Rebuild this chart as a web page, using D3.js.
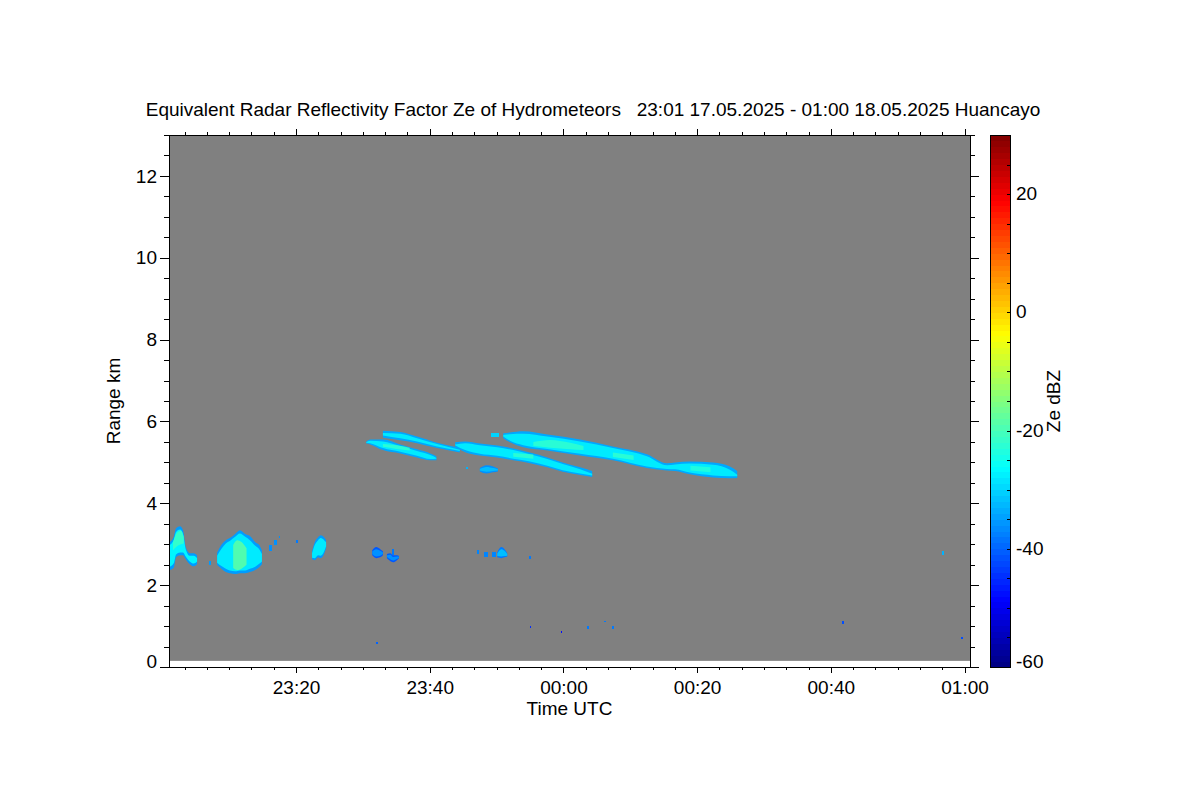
<!DOCTYPE html>
<html>
<head>
<meta charset="utf-8">
<script src="https://cdn.jsdelivr.net/npm/d3@7"></script>
<style>
  html, body { margin: 0; padding: 0; background: #fff; }
  svg text { font-family: "Liberation Sans", Arial, Helvetica, sans-serif; fill: #000; }
</style>
</head>
<body>
<svg id="chart" width="1200" height="800"></svg>
<script>
// ---------------- DATA (time = minutes after 23:00 UTC 17.05.2025, height in km, Ze in dBZ) ----------------
const titleText = "Equivalent Radar Reflectivity Factor Ze of Hydrometeors   23:01 17.05.2025 - 01:00 18.05.2025 Huancayo";
const xTickLabels = ["23:20", "23:40", "00:00", "00:20", "00:40", "01:00"];
const xTickMinutes = [20, 40, 60, 80, 100, 120];
const yTickValues = [0, 2, 4, 6, 8, 10, 12];
const cbarTickValues = [20, 0, -20, -40, -60];
const cbarTickLabels = ["20", "0", "-20", "-40", "-60"];
const zeRange = [-60, 30];
const timeRangeMinutes = [1, 120.82];
const heightRange = [0, 13];
const dataBottomKm = 0.15;

// echo layers: [time, outerLow, outerHigh, innerLow, innerHigh]
const layerUpperLeft = [
  [33.0, 5.60, 5.77, 5.66, 5.72], [35.6, 5.54, 5.74, 5.59, 5.70], [38.1, 5.47, 5.63, 5.51, 5.59],
  [41.1, 5.35, 5.48, 5.39, 5.45], [44.5, 5.24, 5.36, 5.28, 5.31]
];
const layerLowerLeft = [
  [30.5, 5.46, 5.51, 5.48, 5.49], [31.1, 5.44, 5.56, 5.47, 5.53], [33.0, 5.30, 5.56, 5.35, 5.51],
  [35.6, 5.22, 5.44, 5.26, 5.40], [38.1, 5.12, 5.32, 5.16, 5.28], [40.1, 5.05, 5.22, 5.08, 5.18],
  [41.0, 5.05, 5.15, 5.09, 5.11]
];
const layerMiddle = [
  [43.8, 5.38, 5.49, 5.42, 5.44], [45.3, 5.25, 5.51, 5.30, 5.47], [47.5, 5.17, 5.46, 5.21, 5.42],
  [50.1, 5.12, 5.41, 5.16, 5.37], [52.5, 5.05, 5.34, 5.09, 5.30], [55.0, 4.98, 5.24, 5.02, 5.20],
  [57.6, 4.88, 5.12, 4.92, 5.08], [59.9, 4.77, 5.00, 4.81, 4.96], [62.5, 4.69, 4.88, 4.73, 4.83],
  [64.3, 4.64, 4.79, 4.68, 4.72]
];
const layerUpperMain = [
  [51.0, 5.59, 5.71, 5.63, 5.67], [52.0, 5.49, 5.73, 5.53, 5.69], [54.0, 5.37, 5.76, 5.42, 5.70],
  [57.6, 5.29, 5.68, 5.33, 5.63], [62.5, 5.17, 5.56, 5.21, 5.51], [67.4, 5.05, 5.39, 5.09, 5.35],
  [72.5, 4.86, 5.20, 4.90, 5.15], [75.5, 4.80, 4.98, 4.84, 4.93], [76.7, 4.79, 5.00, 4.83, 4.95],
  [78.9, 4.71, 5.02, 4.75, 4.97], [82.4, 4.63, 5.00, 4.68, 4.94], [84.9, 4.61, 4.90, 4.66, 4.82],
  [86.0, 4.62, 4.79, 4.66, 4.70]
];
const layerSmallLower = [
  [47.5, 4.78, 4.86, 4.80, 4.84], [48.5, 4.73, 4.93, 4.77, 4.89], [49.5, 4.76, 4.90, 4.79, 4.86],
  [50.2, 4.78, 4.85, 4.80, 4.83]
];
const blobA = [
  [1.1, 2.37, 3.05, 2.45, 2.98], [1.75, 2.44, 3.20, 2.55, 3.12], [2.05, 2.68, 3.39, 2.75, 3.30],
  [2.65, 2.73, 3.44, 2.80, 3.36], [3.1, 2.73, 3.34, 2.80, 3.25], [3.5, 2.63, 2.93, 2.70, 2.88],
  [4.1, 2.51, 2.78, 2.58, 2.72], [4.7, 2.46, 2.78, 2.53, 2.72], [5.2, 2.51, 2.73, 2.58, 2.66]
];
const blobB = [
  [8.2, 2.49, 2.80, 2.55, 2.72], [8.9, 2.39, 3.00, 2.46, 2.90], [9.5, 2.32, 3.10, 2.40, 3.02],
  [10.1, 2.29, 3.15, 2.36, 3.08], [10.9, 2.27, 3.25, 2.34, 3.18], [11.6, 2.29, 3.34, 2.36, 3.26],
  [12.4, 2.29, 3.25, 2.36, 3.18], [13.1, 2.32, 3.20, 2.40, 3.10], [13.9, 2.37, 3.05, 2.45, 2.96],
  [14.5, 2.44, 2.98, 2.52, 2.88], [14.9, 2.51, 2.85, 2.58, 2.76]
];
const blobC = [
  [22.4, 2.63, 2.83, 2.67, 2.78], [22.8, 2.61, 3.05, 2.66, 2.98], [23.3, 2.68, 3.17, 2.73, 3.10],
  [23.7, 2.66, 3.22, 2.72, 3.15], [24.2, 2.76, 3.17, 2.82, 3.10], [24.5, 2.90, 3.10, 2.95, 3.05]
];
const blobD = [
  [31.4, 2.73, 2.85, 2.76, 2.82], [32.0, 2.66, 2.93, 2.70, 2.88], [32.6, 2.68, 2.88, 2.72, 2.84],
  [33.0, 2.73, 2.83, 2.76, 2.80]
];
const blobE = [
  [33.6, 2.66, 2.76, 2.69, 2.73], [34.1, 2.59, 2.78, 2.63, 2.74], [34.5, 2.56, 2.73, 2.60, 2.69],
  [35.1, 2.61, 2.73, 2.64, 2.70], [35.4, 2.66, 2.71, 2.67, 2.70]
];
const blobI = [
  [50.1, 2.68, 2.80, 2.71, 2.77], [50.7, 2.66, 2.93, 2.70, 2.88], [51.2, 2.68, 2.88, 2.71, 2.84],
  [51.6, 2.70, 2.78, 2.72, 2.76]
];
// outer / inner reflectivity of each echo above (same order)
const echoOuterZe = [-34, -34, -34, -34, -36, -35, -35, -35, -41, -41, -38];
const echoInnerZe = [-28, -28, -28, -28, -32, -27, -28, -28, -36, -36, -32];

// stronger cores: [time, low, high]
const coreUpperMain1 = [[55.5, 5.40, 5.50], [58.0, 5.36, 5.55], [61.0, 5.32, 5.48], [63.0, 5.30, 5.40]];
const coreUpperMain2 = [[67.4, 5.13, 5.24], [70.5, 5.06, 5.17]];
const coreUpperMain3 = [[79.0, 4.80, 4.92], [82.0, 4.76, 4.88]];
const coreMiddle = [[52.5, 5.14, 5.23], [55.5, 5.09, 5.19]];
const coreLowerLeft = [[33.0, 5.38, 5.45], [35.0, 5.33, 5.42], [37.0, 5.29, 5.36]];
const coreBlobA = [[1.6, 2.85, 3.05], [2.2, 2.95, 3.28], [2.8, 3.00, 3.33], [3.2, 3.02, 3.18]];
const coreBlobB = [[10.6, 2.42, 2.98], [11.2, 2.37, 3.10], [11.9, 2.41, 3.05], [12.6, 2.50, 2.90]];
const coreZe = [-22, -22, -23, -22, -22, -21, -18];

// isolated cells: start/end time, bottom/top height, Ze
const cellT0 = [31.9, 55.0, 59.6, 63.6, 66.1, 67.3, 101.7, 116.6, 119.5, 7.0, 16.0, 16.7, 17.4, 20.0, 54.9, 47.0, 48.1, 49.3, 49.2, 45.5, 34.4];
const cellT1 = [32.2, 55.2, 59.8, 63.8, 66.3, 67.6, 101.9, 116.9, 119.7, 7.3, 16.4, 17.1, 17.6, 20.3, 55.1, 47.4, 48.7, 49.9, 50.3, 45.8, 34.6];
const cellH0 = [0.56, 0.95, 0.83, 0.93, 1.10, 0.93, 1.05, 2.73, 0.70, 2.50, 2.83, 2.98, 3.15, 3.02, 2.63, 2.76, 2.68, 2.68, 5.61, 4.83, 2.73];
const cellH1 = [0.60, 1.00, 0.88, 1.00, 1.13, 1.00, 1.12, 2.83, 0.73, 2.60, 2.98, 3.10, 3.20, 3.10, 2.71, 2.85, 2.80, 2.80, 5.71, 4.88, 2.88];
const cellZe = [-40, -45, -48, -38, -38, -38, -42, -33, -42, -35, -36, -36, -36, -38, -38, -37, -37, -37, -30, -33, -38];

// ---------------- DRAWING ----------------
const svg = d3.select("#chart");
const W = 1200, H = 800;
const plot = { left: 169, right: 970, top: 135, bottom: 667 };
const base = Date.UTC(2025, 4, 17, 23, 0, 0);
const toDate = m => new Date(base + m * 60000);

const x = d3.scaleUtc().domain(timeRangeMinutes.map(toDate)).range([plot.left, plot.right]);
const y = d3.scaleLinear().domain(heightRange).range([plot.bottom, plot.top]);
const cb = d3.scaleLinear().domain(zeRange).range([667, 135]);

function jet(z) {
  const f = Math.max(0, Math.min(1, (z - zeRange[0]) / (zeRange[1] - zeRange[0])));
  const c = v => Math.round(255 * Math.max(0, Math.min(1, v)));
  return `rgb(${c(1.5 - Math.abs(4 * f - 3))},${c(1.5 - Math.abs(4 * f - 2))},${c(1.5 - Math.abs(4 * f - 1))})`;
}

svg.append("rect").attr("width", W).attr("height", H).attr("fill", "#fff");

// gray background of data area
svg.append("rect")
  .attr("x", x(toDate(timeRangeMinutes[0])) + 1)
  .attr("y", y(heightRange[1]))
  .attr("width", x(toDate(timeRangeMinutes[1])) - x(toDate(timeRangeMinutes[0])) - 1)
  .attr("height", y(dataBottomKm) - y(heightRange[1]))
  .attr("fill", "#808080");

const g = svg.append("g");
const echoes = [layerUpperLeft, layerLowerLeft, layerMiddle, layerUpperMain, layerSmallLower,
                blobA, blobB, blobC, blobD, blobE, blobI];
const outerArea = d3.area().x(d => x(toDate(d[0]))).y0(d => y(d[1])).y1(d => y(d[2])).curve(d3.curveMonotoneX);
const innerArea = d3.area().x(d => x(toDate(d[0]))).y0(d => y(d[3])).y1(d => y(d[4])).curve(d3.curveMonotoneX);
echoes.forEach((e, i) => {
  g.append("path").attr("d", outerArea(e)).attr("fill", jet(echoOuterZe[i]));
});
echoes.forEach((e, i) => {
  g.append("path").attr("d", innerArea(e)).attr("fill", jet(echoInnerZe[i]));
});
const cores = [coreUpperMain1, coreUpperMain2, coreUpperMain3, coreMiddle, coreLowerLeft, coreBlobA, coreBlobB];
const coreArea = d3.area().x(d => x(toDate(d[0]))).y0(d => y(d[1])).y1(d => y(d[2])).curve(d3.curveMonotoneX);
cores.forEach((c, i) => {
  g.append("path").attr("d", coreArea(c)).attr("fill", jet(coreZe[i])).attr("opacity", 0.85);
});
g.selectAll("rect.cell").data(d3.range(cellT0.length)).join("rect")
  .attr("class", "cell")
  .attr("x", i => x(toDate(cellT0[i])))
  .attr("width", i => Math.max(1.5, x(toDate(cellT1[i])) - x(toDate(cellT0[i]))))
  .attr("y", i => y(cellH1[i]))
  .attr("height", i => Math.max(1.5, y(cellH0[i]) - y(cellH1[i])))
  .attr("fill", i => jet(cellZe[i]))
  .attr("shape-rendering", "crispEdges");

// frame
svg.append("rect").attr("x", plot.left).attr("y", plot.top)
  .attr("width", plot.right - plot.left).attr("height", plot.bottom - plot.top)
  .attr("fill", "none").attr("stroke", "#000").attr("stroke-width", 1).attr("shape-rendering", "crispEdges");

const fontSize = 19;
const styleAxis = sel => {
  sel.select(".domain").remove();
  sel.selectAll("line").attr("stroke", "#000").attr("shape-rendering", "crispEdges");
  sel.selectAll("text").attr("font-size", fontSize).attr("font-family", '"Liberation Sans", Arial, sans-serif');
};

const majorDates = xTickMinutes.map(toDate);
const minorDates = d3.range(10 / 3, 121, 10 / 3).map(toDate)
  .filter(d => d >= x.domain()[0] && d <= x.domain()[1]);
const yMinor = d3.range(0, 13.01, 0.5);

// bottom
svg.append("g").attr("transform", `translate(0,${plot.bottom})`)
  .call(d3.axisBottom(x).tickValues(minorDates).tickSize(3).tickFormat("")).call(styleAxis);
svg.append("g").attr("transform", `translate(0,${plot.bottom})`)
  .call(d3.axisBottom(x).tickValues(majorDates).tickSize(6).tickPadding(7.5)
    .tickFormat((d, i) => xTickLabels[i])).call(styleAxis);
// top
svg.append("g").attr("transform", `translate(0,${plot.top})`)
  .call(d3.axisTop(x).tickValues(minorDates).tickSize(3.5).tickFormat("")).call(styleAxis);
svg.append("g").attr("transform", `translate(0,${plot.top})`)
  .call(d3.axisTop(x).tickValues(majorDates).tickSize(6).tickFormat("")).call(styleAxis);
// left
svg.append("g").attr("transform", `translate(${plot.left},0)`)
  .call(d3.axisLeft(y).tickValues(yMinor).tickSize(5).tickFormat("")).call(styleAxis);
const yAxisG = svg.append("g").attr("transform", `translate(${plot.left},0)`)
  .call(d3.axisLeft(y).tickValues(yTickValues).tickSize(9).tickPadding(3).tickFormat(d3.format("d"))).call(styleAxis);
// the lowest label sits slightly above its tick, as in the reference
yAxisG.selectAll(".tick").filter(d => d === heightRange[0]).select("text").attr("y", -6);
// right
svg.append("g").attr("transform", `translate(${plot.right},0)`)
  .call(d3.axisRight(y).tickValues(yMinor).tickSize(5).tickFormat("")).call(styleAxis);
svg.append("g").attr("transform", `translate(${plot.right},0)`)
  .call(d3.axisRight(y).tickValues(yTickValues).tickSize(9).tickFormat("")).call(styleAxis);

// titles
svg.append("text").attr("x", 593).attr("y", 116).attr("text-anchor", "middle")
  .attr("font-size", fontSize).style("white-space", "pre").attr("xml:space", "preserve").text(titleText);
svg.append("text").attr("x", (plot.left + plot.right) / 2).attr("y", 715).attr("text-anchor", "middle")
  .attr("font-size", fontSize).text("Time UTC");
svg.append("text").attr("transform", `translate(120,${(plot.top + plot.bottom) / 2}) rotate(-90)`)
  .attr("text-anchor", "middle").attr("font-size", fontSize).text("Range km");

// colorbar
const cbX = 990, cbW = 20;
const steps = d3.range(zeRange[0], zeRange[1], 1);
svg.append("g").selectAll("rect").data(steps).join("rect")
  .attr("x", cbX).attr("width", cbW)
  .attr("y", d => cb(d + 1)).attr("height", d => cb(d) - cb(d + 1) + 0.5)
  .attr("fill", d => jet(d + 0.5)).attr("shape-rendering", "crispEdges");
svg.append("rect").attr("x", cbX).attr("y", cb(zeRange[1])).attr("width", cbW)
  .attr("height", cb(zeRange[0]) - cb(zeRange[1]))
  .attr("fill", "none").attr("stroke", "#000").attr("shape-rendering", "crispEdges");
svg.append("g").attr("transform", `translate(${cbX + cbW},0)`)
  .call(d3.axisLeft(cb).tickValues(d3.range(-55, 30, 5)).tickSize(3).tickFormat("")).call(styleAxis);
svg.append("g").selectAll("text").data(cbarTickValues).join("text")
  .attr("x", 1016).attr("y", d => cb(d) - (d === zeRange[0] ? 5 : 0)).attr("dy", "0.32em")
  .attr("font-size", fontSize).text((d, i) => cbarTickLabels[i]);
svg.append("text").attr("transform", `translate(1060,${(plot.top + plot.bottom) / 2}) rotate(-90)`)
  .attr("text-anchor", "middle").attr("font-size", fontSize).text("Ze dBZ");
</script>
</body>
</html>
